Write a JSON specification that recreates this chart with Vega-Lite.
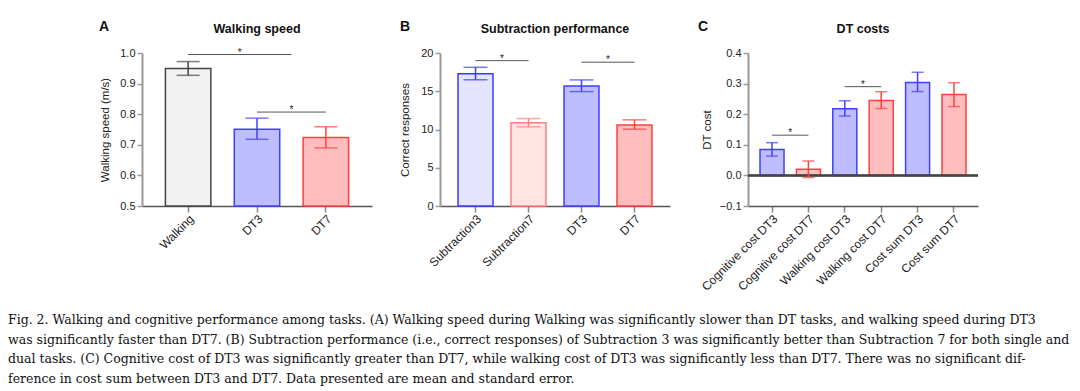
{
  "$schema": "https://vega.github.io/schema/vega-lite/v6.json",
  "background": "white",
  "padding": {"left": 8, "top": 19, "right": 0, "bottom": 0},
  "config": {
    "font": "Liberation Sans",
    "view": {"stroke": null},
    "axis": {"labelFont": "Liberation Sans", "labelFontSize": 11, "labelColor": "#222", "titleFont": "Liberation Sans", "titleFontSize": 11.5, "titleFontWeight": "normal", "titleColor": "#222", "grid": false},
    "axisY": {"domainWidth": 2, "domainColor": "#999", "tickColor": "#999", "tickWidth": 1.5, "tickSize": 5, "labelPadding": 2, "titlePadding": 6},
    "axisX": {"domainColor": "#555", "domainWidth": 1.5, "tickColor": "#888", "tickWidth": 1.5, "tickSize": 6, "labelAngle": -45, "labelAlign": "right", "labelBaseline": "top", "labelPadding": 1, "labelFontSize": 12}
  },
  "title": {
    "text": [
      "Fig. 2. Walking and cognitive performance among tasks. (A) Walking speed during Walking was significantly slower than DT tasks, and walking speed during DT3",
      "was significantly faster than DT7. (B) Subtraction performance (i.e., correct responses) of Subtraction 3 was significantly better than Subtraction 7 for both single and",
      "dual tasks. (C) Cognitive cost of DT3 was significantly greater than DT7, while walking cost of DT3 was significantly less than DT7. There was no significant dif-",
      "ference in cost sum between DT3 and DT7. Data presented are mean and standard error."
    ],
    "orient": "bottom", "anchor": "start", "frame": "group",
    "font": "DejaVu Serif", "fontSize": 12.5, "fontWeight": "normal", "color": "#111",
    "lineHeight": 19.5, "offset": 22
  },
  "spacing": 27,
  "hconcat": [
    {
      "width": 64, "height": 153,
      "data": {"values": []},
      "mark": "rule",
      "encoding": {}
    },
    {
      "title": {"text": "A", "anchor": "start", "frame": "group", "fontSize": 14, "fontWeight": "bold", "color": "#111", "font": "Liberation Sans", "offset": 0, "dy": 11, "dx": -43},
      "hconcat": [
        {
          "width": 230, "height": 153,
          "title": {"text": "Walking speed", "fontSize": 12.5, "fontWeight": "bold", "font": "Liberation Sans", "color": "#111", "anchor": "middle", "frame": "group", "offset": 12},
          "data": {"values": [
            {"task": "Walking", "cond": "walk", "mean": 0.949, "lo": 0.927, "hi": 0.972},
            {"task": "DT3", "cond": "dt3", "mean": 0.751, "lo": 0.718, "hi": 0.787},
            {"task": "DT7", "cond": "dt7", "mean": 0.724, "lo": 0.690, "hi": 0.759}
          ]},
          "layer": [
            {
              "mark": {"type": "bar", "strokeWidth": 1.5},
              "encoding": {
                "x": {"field": "task", "type": "nominal", "scale": {"domain": ["Walking", "DT3", "DT7"], "paddingInner": 0.34, "paddingOuter": 0.34}, "axis": {"title": null}},
                "y": {"field": "mean", "type": "quantitative", "scale": {"domain": [0.5, 1.0], "nice": false, "zero": false}, "axis": {"title": "Walking speed (m/s)", "values": [0.5, 0.6, 0.7, 0.8, 0.9, 1.0], "format": ".1f", "titlePadding": 9}},
                "y2": {"datum": 0.5},
                "fill": {"field": "cond", "type": "nominal", "scale": {"domain": ["walk", "s3", "s7", "dt3", "dt7"], "range": ["#f2f2f2", "#e4e4ff", "#ffe4e4", "#bdbdff", "#ffbdbd"]}, "legend": null},
                "stroke": {"field": "cond", "type": "nominal", "scale": {"domain": ["walk", "s3", "s7", "dt3", "dt7"], "range": ["#444444", "#3a3aff", "#ff8080", "#4040ff", "#ff4040"]}, "legend": null}
              }
            },
            {
              "mark": {"type": "rule", "strokeWidth": 1.5},
              "encoding": {
                "x": {"field": "task", "type": "nominal", "scale": {"domain": ["Walking", "DT3", "DT7"], "paddingInner": 0.34, "paddingOuter": 0.34}, "axis": {"title": null}},
                "y": {"field": "lo", "type": "quantitative", "scale": {"domain": [0.5, 1.0], "nice": false, "zero": false}, "axis": {"title": "Walking speed (m/s)", "values": [0.5, 0.6, 0.7, 0.8, 0.9, 1.0], "format": ".1f", "titlePadding": 9}},
                "y2": {"field": "hi"},
                "stroke": {"field": "cond", "type": "nominal", "scale": {"domain": ["walk", "s3", "s7", "dt3", "dt7"], "range": ["#444444", "#3a3aff", "#ff8080", "#4040ff", "#ff4040"]}, "legend": null}
              }
            },
            {
              "mark": {"type": "tick", "thickness": 1.5, "size": 23},
              "encoding": {
                "x": {"field": "task", "type": "nominal", "scale": {"domain": ["Walking", "DT3", "DT7"], "paddingInner": 0.34, "paddingOuter": 0.34}, "axis": {"title": null}},
                "y": {"field": "lo", "type": "quantitative", "scale": {"domain": [0.5, 1.0], "nice": false, "zero": false}, "axis": {"title": "Walking speed (m/s)", "values": [0.5, 0.6, 0.7, 0.8, 0.9, 1.0], "format": ".1f", "titlePadding": 9}},
                "color": {"field": "cond", "type": "nominal", "scale": {"domain": ["walk", "s3", "s7", "dt3", "dt7"], "range": ["#444444", "#3a3aff", "#ff8080", "#4040ff", "#ff4040"]}, "legend": null}
              }
            },
            {
              "mark": {"type": "tick", "thickness": 1.5, "size": 23},
              "encoding": {
                "x": {"field": "task", "type": "nominal", "scale": {"domain": ["Walking", "DT3", "DT7"], "paddingInner": 0.34, "paddingOuter": 0.34}, "axis": {"title": null}},
                "y": {"field": "hi", "type": "quantitative", "scale": {"domain": [0.5, 1.0], "nice": false, "zero": false}, "axis": {"title": "Walking speed (m/s)", "values": [0.5, 0.6, 0.7, 0.8, 0.9, 1.0], "format": ".1f", "titlePadding": 9}},
                "color": {"field": "cond", "type": "nominal", "scale": {"domain": ["walk", "s3", "s7", "dt3", "dt7"], "range": ["#444444", "#3a3aff", "#ff8080", "#4040ff", "#ff4040"]}, "legend": null}
              }
            },
            {
              "data": {"values": [{"from": "Walking", "to": "DT3", "y": 0.995}]},
              "mark": {"type": "rule", "strokeWidth": 1, "color": "#555"},
              "encoding": {
                "x": {"field": "from", "type": "nominal", "bandPosition": 0.5, "scale": {"domain": ["Walking", "DT3", "DT7"], "paddingInner": 0.34, "paddingOuter": 0.34}, "axis": {"title": null}},
                "x2": {"field": "to", "bandPosition": 1.258},
                "y": {"field": "y", "type": "quantitative", "scale": {"domain": [0.5, 1.0], "nice": false, "zero": false}, "axis": {"title": "Walking speed (m/s)", "values": [0.5, 0.6, 0.7, 0.8, 0.9, 1.0], "format": ".1f", "titlePadding": 9}}
              }
            },
            {
              "data": {"values": [{"from": "DT3", "to": "DT7", "y": 0.807}]},
              "mark": {"type": "rule", "strokeWidth": 1, "color": "#555"},
              "encoding": {
                "x": {"field": "from", "type": "nominal", "bandPosition": 0.5, "scale": {"domain": ["Walking", "DT3", "DT7"], "paddingInner": 0.34, "paddingOuter": 0.34}, "axis": {"title": null}},
                "x2": {"field": "to", "bandPosition": 0.5},
                "y": {"field": "y", "type": "quantitative", "scale": {"domain": [0.5, 1.0], "nice": false, "zero": false}, "axis": {"title": "Walking speed (m/s)", "values": [0.5, 0.6, 0.7, 0.8, 0.9, 1.0], "format": ".1f", "titlePadding": 9}}
              }
            },
            {
              "data": {"values": [{"at": "Walking", "t": "*", "y": 0.995}]},
              "mark": {"type": "text", "fontSize": 10, "color": "#222", "baseline": "alphabetic", "dy": 1},
              "encoding": {
                "x": {"field": "at", "type": "nominal", "bandPosition": 1.636, "scale": {"domain": ["Walking", "DT3", "DT7"], "paddingInner": 0.34, "paddingOuter": 0.34}, "axis": {"title": null}},
                "y": {"field": "y", "type": "quantitative", "scale": {"domain": [0.5, 1.0], "nice": false, "zero": false}, "axis": {"title": "Walking speed (m/s)", "values": [0.5, 0.6, 0.7, 0.8, 0.9, 1.0], "format": ".1f", "titlePadding": 9}},
                "text": {"field": "t"}
              }
            },
            {
              "data": {"values": [{"at": "DT3", "t": "*", "y": 0.807}]},
              "mark": {"type": "text", "fontSize": 10, "color": "#222", "baseline": "alphabetic", "dy": 1},
              "encoding": {
                "x": {"field": "at", "type": "nominal", "bandPosition": 1.258, "scale": {"domain": ["Walking", "DT3", "DT7"], "paddingInner": 0.34, "paddingOuter": 0.34}, "axis": {"title": null}},
                "y": {"field": "y", "type": "quantitative", "scale": {"domain": [0.5, 1.0], "nice": false, "zero": false}, "axis": {"title": "Walking speed (m/s)", "values": [0.5, 0.6, 0.7, 0.8, 0.9, 1.0], "format": ".1f", "titlePadding": 9}},
                "text": {"field": "t"}
              }
            }
          ]
        }
      ]
    },
    {
      "spacing": 28,
      "hconcat": [
        {
          "title": {"text": "B", "anchor": "start", "frame": "group", "fontSize": 14, "fontWeight": "bold", "color": "#111", "font": "Liberation Sans", "offset": 0, "dy": 11, "dx": -40},
          "hconcat": [
            {
              "width": 230, "height": 153,
              "title": {"text": "Subtraction performance", "fontSize": 12.5, "fontWeight": "bold", "font": "Liberation Sans", "color": "#111", "anchor": "middle", "frame": "group", "offset": 12},
              "data": {"values": [
                {"task": "Subtraction3", "cond": "s3", "mean": 17.3, "lo": 16.5, "hi": 18.13},
                {"task": "Subtraction7", "cond": "s7", "mean": 10.87, "lo": 10.35, "hi": 11.43},
                {"task": "DT3", "cond": "dt3", "mean": 15.7, "lo": 14.96, "hi": 16.48},
                {"task": "DT7", "cond": "dt7", "mean": 10.6, "lo": 10.04, "hi": 11.26}
              ]},
              "layer": [
                {
                  "mark": {"type": "bar", "strokeWidth": 1.5},
                  "encoding": {
                    "x": {"field": "task", "type": "nominal", "scale": {"domain": ["Subtraction3", "Subtraction7", "DT3", "DT7"], "paddingInner": 0.34, "paddingOuter": 0.34}, "axis": {"title": null}},
                    "y": {"field": "mean", "type": "quantitative", "scale": {"domain": [0, 20], "nice": false}, "axis": {"title": "Correct responses", "values": [0, 5, 10, 15, 20], "titlePadding": 10}},
                    "fill": {"field": "cond", "type": "nominal", "scale": {"domain": ["walk", "s3", "s7", "dt3", "dt7"], "range": ["#f2f2f2", "#e4e4ff", "#ffe4e4", "#bdbdff", "#ffbdbd"]}, "legend": null},
                    "stroke": {"field": "cond", "type": "nominal", "scale": {"domain": ["walk", "s3", "s7", "dt3", "dt7"], "range": ["#444444", "#3a3aff", "#ff8080", "#4040ff", "#ff4040"]}, "legend": null}
                  }
                },
                {
                  "mark": {"type": "rule", "strokeWidth": 1.5},
                  "encoding": {
                    "x": {"field": "task", "type": "nominal", "scale": {"domain": ["Subtraction3", "Subtraction7", "DT3", "DT7"], "paddingInner": 0.34, "paddingOuter": 0.34}, "axis": {"title": null}},
                    "y": {"field": "lo", "type": "quantitative", "scale": {"domain": [0, 20], "nice": false}, "axis": {"title": "Correct responses", "values": [0, 5, 10, 15, 20], "titlePadding": 10}},
                    "y2": {"field": "hi"},
                    "stroke": {"field": "cond", "type": "nominal", "scale": {"domain": ["walk", "s3", "s7", "dt3", "dt7"], "range": ["#444444", "#3a3aff", "#ff8080", "#4040ff", "#ff4040"]}, "legend": null}
                  }
                },
                {
                  "mark": {"type": "tick", "thickness": 1.5, "size": 24},
                  "encoding": {
                    "x": {"field": "task", "type": "nominal", "scale": {"domain": ["Subtraction3", "Subtraction7", "DT3", "DT7"], "paddingInner": 0.34, "paddingOuter": 0.34}, "axis": {"title": null}},
                    "y": {"field": "lo", "type": "quantitative", "scale": {"domain": [0, 20], "nice": false}, "axis": {"title": "Correct responses", "values": [0, 5, 10, 15, 20], "titlePadding": 10}},
                    "color": {"field": "cond", "type": "nominal", "scale": {"domain": ["walk", "s3", "s7", "dt3", "dt7"], "range": ["#444444", "#3a3aff", "#ff8080", "#4040ff", "#ff4040"]}, "legend": null}
                  }
                },
                {
                  "mark": {"type": "tick", "thickness": 1.5, "size": 24},
                  "encoding": {
                    "x": {"field": "task", "type": "nominal", "scale": {"domain": ["Subtraction3", "Subtraction7", "DT3", "DT7"], "paddingInner": 0.34, "paddingOuter": 0.34}, "axis": {"title": null}},
                    "y": {"field": "hi", "type": "quantitative", "scale": {"domain": [0, 20], "nice": false}, "axis": {"title": "Correct responses", "values": [0, 5, 10, 15, 20], "titlePadding": 10}},
                    "color": {"field": "cond", "type": "nominal", "scale": {"domain": ["walk", "s3", "s7", "dt3", "dt7"], "range": ["#444444", "#3a3aff", "#ff8080", "#4040ff", "#ff4040"]}, "legend": null}
                  }
                },
                {
                  "data": {"values": [{"from": "Subtraction3", "to": "Subtraction7", "y": 19.0}, {"from": "DT3", "to": "DT7", "y": 18.8}]},
                  "mark": {"type": "rule", "strokeWidth": 1, "color": "#555"},
                  "encoding": {
                    "x": {"field": "from", "type": "nominal", "bandPosition": 0.5, "scale": {"domain": ["Subtraction3", "Subtraction7", "DT3", "DT7"], "paddingInner": 0.34, "paddingOuter": 0.34}, "axis": {"title": null}},
                    "x2": {"field": "to", "bandPosition": 0.5},
                    "y": {"field": "y", "type": "quantitative", "scale": {"domain": [0, 20], "nice": false}, "axis": {"title": "Correct responses", "values": [0, 5, 10, 15, 20], "titlePadding": 10}}
                  }
                },
                {
                  "data": {"values": [{"at": "Subtraction3", "t": "*", "y": 19.0}, {"at": "DT3", "t": "*", "y": 18.8}]},
                  "mark": {"type": "text", "fontSize": 10, "color": "#222", "baseline": "alphabetic", "dy": 1},
                  "encoding": {
                    "x": {"field": "at", "type": "nominal", "bandPosition": 1.258, "scale": {"domain": ["Subtraction3", "Subtraction7", "DT3", "DT7"], "paddingInner": 0.34, "paddingOuter": 0.34}, "axis": {"title": null}},
                    "y": {"field": "y", "type": "quantitative", "scale": {"domain": [0, 20], "nice": false}, "axis": {"title": "Correct responses", "values": [0, 5, 10, 15, 20], "titlePadding": 10}},
                    "text": {"field": "t"}
                  }
                }
              ]
            }
          ]
        },
        {
          "title": {"text": "C", "anchor": "start", "frame": "group", "fontSize": 14, "fontWeight": "bold", "color": "#111", "font": "Liberation Sans", "offset": 0, "dy": 11, "dx": -50},
          "hconcat": [
            {
              "width": 230, "height": 153,
              "title": {"text": "DT costs", "fontSize": 12.5, "fontWeight": "bold", "font": "Liberation Sans", "color": "#111", "anchor": "middle", "frame": "group", "offset": 12},
              "data": {"values": [
                {"task": "Cognitive cost DT3", "cond": "dt3", "mean": 0.085, "lo": 0.063, "hi": 0.107},
                {"task": "Cognitive cost DT7", "cond": "dt7", "mean": 0.020, "lo": -0.007, "hi": 0.047},
                {"task": "Walking cost DT3", "cond": "dt3", "mean": 0.218, "lo": 0.194, "hi": 0.244},
                {"task": "Walking cost DT7", "cond": "dt7", "mean": 0.245, "lo": 0.219, "hi": 0.273},
                {"task": "Cost sum DT3", "cond": "dt3", "mean": 0.304, "lo": 0.274, "hi": 0.337},
                {"task": "Cost sum DT7", "cond": "dt7", "mean": 0.264, "lo": 0.225, "hi": 0.303}
              ]},
              "layer": [
                {
                  "mark": {"type": "bar", "strokeWidth": 1.5},
                  "encoding": {
                    "x": {"field": "task", "type": "nominal", "scale": {"domain": ["Cognitive cost DT3", "Cognitive cost DT7", "Walking cost DT3", "Walking cost DT7", "Cost sum DT3", "Cost sum DT7"], "paddingInner": 0.34, "paddingOuter": 0.33}, "axis": {"title": null}},
                    "y": {"field": "mean", "type": "quantitative", "scale": {"domain": [-0.1, 0.4], "nice": false}, "axis": {"title": "DT cost", "values": [-0.1, 0, 0.1, 0.2, 0.3, 0.4], "format": ".1f", "titlePadding": 7}},
                    "fill": {"field": "cond", "type": "nominal", "scale": {"domain": ["walk", "s3", "s7", "dt3", "dt7"], "range": ["#f2f2f2", "#e4e4ff", "#ffe4e4", "#bdbdff", "#ffbdbd"]}, "legend": null},
                    "stroke": {"field": "cond", "type": "nominal", "scale": {"domain": ["walk", "s3", "s7", "dt3", "dt7"], "range": ["#444444", "#3a3aff", "#ff8080", "#4040ff", "#ff4040"]}, "legend": null}
                  }
                },
                {
                  "mark": {"type": "rule", "strokeWidth": 1.5, "color": "#444"},
                  "encoding": {
                    "y": {"datum": 0, "type": "quantitative", "scale": {"domain": [-0.1, 0.4], "nice": false}, "axis": {"title": "DT cost", "values": [-0.1, 0, 0.1, 0.2, 0.3, 0.4], "format": ".1f", "titlePadding": 7}}
                  }
                },
                {
                  "mark": {"type": "rule", "strokeWidth": 1.5},
                  "encoding": {
                    "x": {"field": "task", "type": "nominal", "scale": {"domain": ["Cognitive cost DT3", "Cognitive cost DT7", "Walking cost DT3", "Walking cost DT7", "Cost sum DT3", "Cost sum DT7"], "paddingInner": 0.34, "paddingOuter": 0.33}, "axis": {"title": null}},
                    "y": {"field": "lo", "type": "quantitative", "scale": {"domain": [-0.1, 0.4], "nice": false}, "axis": {"title": "DT cost", "values": [-0.1, 0, 0.1, 0.2, 0.3, 0.4], "format": ".1f", "titlePadding": 7}},
                    "y2": {"field": "hi"},
                    "stroke": {"field": "cond", "type": "nominal", "scale": {"domain": ["walk", "s3", "s7", "dt3", "dt7"], "range": ["#444444", "#3a3aff", "#ff8080", "#4040ff", "#ff4040"]}, "legend": null}
                  }
                },
                {
                  "mark": {"type": "tick", "thickness": 1.5, "size": 12},
                  "encoding": {
                    "x": {"field": "task", "type": "nominal", "scale": {"domain": ["Cognitive cost DT3", "Cognitive cost DT7", "Walking cost DT3", "Walking cost DT7", "Cost sum DT3", "Cost sum DT7"], "paddingInner": 0.34, "paddingOuter": 0.33}, "axis": {"title": null}},
                    "y": {"field": "lo", "type": "quantitative", "scale": {"domain": [-0.1, 0.4], "nice": false}, "axis": {"title": "DT cost", "values": [-0.1, 0, 0.1, 0.2, 0.3, 0.4], "format": ".1f", "titlePadding": 7}},
                    "color": {"field": "cond", "type": "nominal", "scale": {"domain": ["walk", "s3", "s7", "dt3", "dt7"], "range": ["#444444", "#3a3aff", "#ff8080", "#4040ff", "#ff4040"]}, "legend": null}
                  }
                },
                {
                  "mark": {"type": "tick", "thickness": 1.5, "size": 12},
                  "encoding": {
                    "x": {"field": "task", "type": "nominal", "scale": {"domain": ["Cognitive cost DT3", "Cognitive cost DT7", "Walking cost DT3", "Walking cost DT7", "Cost sum DT3", "Cost sum DT7"], "paddingInner": 0.34, "paddingOuter": 0.33}, "axis": {"title": null}},
                    "y": {"field": "hi", "type": "quantitative", "scale": {"domain": [-0.1, 0.4], "nice": false}, "axis": {"title": "DT cost", "values": [-0.1, 0, 0.1, 0.2, 0.3, 0.4], "format": ".1f", "titlePadding": 7}},
                    "color": {"field": "cond", "type": "nominal", "scale": {"domain": ["walk", "s3", "s7", "dt3", "dt7"], "range": ["#444444", "#3a3aff", "#ff8080", "#4040ff", "#ff4040"]}, "legend": null}
                  }
                },
                {
                  "data": {"values": [{"from": "Cognitive cost DT3", "to": "Cognitive cost DT7", "y": 0.1315}, {"from": "Walking cost DT3", "to": "Walking cost DT7", "y": 0.29}]},
                  "mark": {"type": "rule", "strokeWidth": 1, "color": "#555"},
                  "encoding": {
                    "x": {"field": "from", "type": "nominal", "bandPosition": 0.5, "scale": {"domain": ["Cognitive cost DT3", "Cognitive cost DT7", "Walking cost DT3", "Walking cost DT7", "Cost sum DT3", "Cost sum DT7"], "paddingInner": 0.34, "paddingOuter": 0.33}, "axis": {"title": null}},
                    "x2": {"field": "to", "bandPosition": 0.5},
                    "y": {"field": "y", "type": "quantitative", "scale": {"domain": [-0.1, 0.4], "nice": false}, "axis": {"title": "DT cost", "values": [-0.1, 0, 0.1, 0.2, 0.3, 0.4], "format": ".1f", "titlePadding": 7}}
                  }
                },
                {
                  "data": {"values": [{"at": "Cognitive cost DT3", "t": "*", "y": 0.1315}, {"at": "Walking cost DT3", "t": "*", "y": 0.29}]},
                  "mark": {"type": "text", "fontSize": 10, "color": "#222", "baseline": "alphabetic", "dy": 1},
                  "encoding": {
                    "x": {"field": "at", "type": "nominal", "bandPosition": 1.258, "scale": {"domain": ["Cognitive cost DT3", "Cognitive cost DT7", "Walking cost DT3", "Walking cost DT7", "Cost sum DT3", "Cost sum DT7"], "paddingInner": 0.34, "paddingOuter": 0.33}, "axis": {"title": null}},
                    "y": {"field": "y", "type": "quantitative", "scale": {"domain": [-0.1, 0.4], "nice": false}, "axis": {"title": "DT cost", "values": [-0.1, 0, 0.1, 0.2, 0.3, 0.4], "format": ".1f", "titlePadding": 7}},
                    "text": {"field": "t"}
                  }
                }
              ]
            }
          ]
        }
      ]
    }
  ]
}
